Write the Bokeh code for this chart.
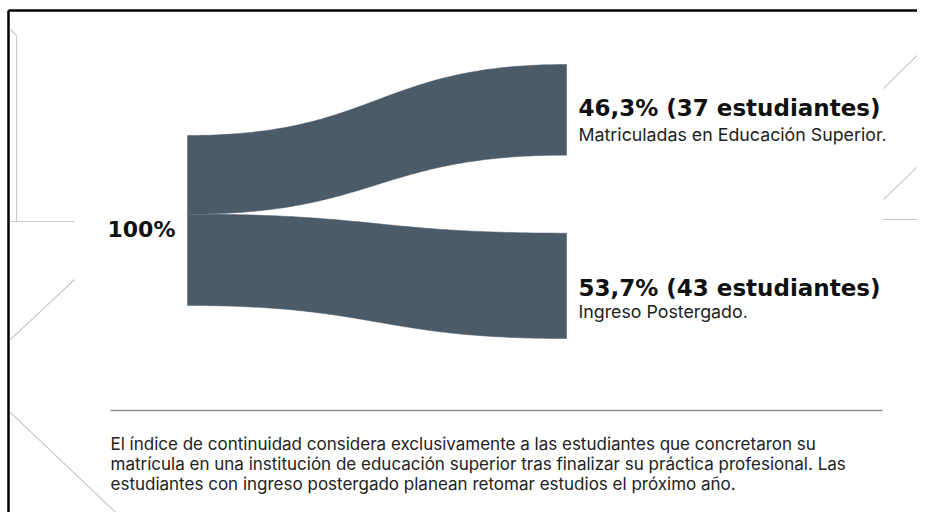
import numpy as np
from bokeh.plotting import figure
from bokeh.models import Range1d
from bokeh.core.properties import value
from bokeh.embed import file_html
from bokeh.resources import INLINE

# ---------------- data ----------------
total_label = "100%"
categories = ["Matriculadas en Educación Superior.", "Ingreso Postergado."]
students = [37, 43]
percents = ["46,3%", "53,7%"]
note_lines = [
    "El índice de continuidad considera exclusivamente a las estudiantes que concretaron su",
    "matrícula en una institución de educación superior tras finalizar su práctica profesional. Las",
    "estudiantes con ingreso postergado planean retomar estudios el próximo año.",
]

# ---------------- layout (picture pixel coords) ----------------
W, H = 917, 512
p = figure(width=W, height=H, output_backend="svg", toolbar_location=None,
           x_range=Range1d(0, W), y_range=Range1d(H, 0),
           min_border=0, outline_line_color=None, background_fill_color="white",
           border_fill_color="white")
p.axis.visible = False
p.grid.visible = False

FLOW = "#4b5b68"
DECO = "#c9cccf"

# decorative thin lines
deco = [
    ([10, 16, 16], [29, 35, 221]),
    ([10, 74], [221, 221]),
    ([74, 10], [279, 339]),
    ([10, 132], [412, 528]),
    ([883, 935], [88, 37]),
    ([883, 935], [199, 149]),
    ([882, 935], [219, 219]),
]
for xs, ys in deco:
    p.line(xs, ys, line_color=DECO, line_width=1.2)

# frame (top and left)
p.line([8, 935], [10, 10], line_color="black", line_width=2.5)
p.line([8, 8], [10, 530], line_color="black", line_width=2.5)

# ---------------- sankey ----------------
X0, X1 = 187, 566
L_TOP, L_BOT = 135, 305
R_TOP, R_BOT = 64, 338
tot = sum(students)
sl = (L_BOT - L_TOP) / tot
sr = 2.45

left_edges = []
acc = L_TOP
for s in students:
    left_edges.append((acc, acc + s * sl))
    acc += s * sl
right_edges = [(R_TOP, R_TOP + students[0] * sr), (R_BOT - students[1] * sr, R_BOT)]

t = np.linspace(0, 1, 120)
def bez(ya, yb):
    xm = (X0 + X1) / 2
    x = (1 - t) ** 3 * X0 + 3 * (1 - t) ** 2 * t * xm + 3 * (1 - t) * t ** 2 * xm + t ** 3 * X1
    y = (1 - t) ** 3 * ya + 3 * (1 - t) ** 2 * t * ya + 3 * (1 - t) * t ** 2 * yb + t ** 3 * yb
    return x, y

for (la, lb), (ra, rb) in zip(left_edges, right_edges):
    xt, yt = bez(la, ra)
    xb, yb = bez(lb, rb)
    xs = np.concatenate([xt, xb[::-1]])
    ys = np.concatenate([yt, yb[::-1]])
    p.patch(xs, ys, fill_color=FLOW, line_color=FLOW, line_width=0.5)

# ---------------- texts ----------------
BOLD = value("DejaVu Sans")
REG = value("Inter")

p.text(x=[107], y=[229], text=[total_label], text_font=BOLD, text_font_style="bold",
       text_font_size="22px", text_color="#111111", text_baseline="alphabetic")

title_y = [107, 287]
sub_y = [134, 311]
titles = [f"{pc} ({n} estudiantes)" for pc, n in zip(percents, students)]
p.text(x=[578, 578], y=title_y, text=titles, text_font=BOLD, text_font_style="bold",
       text_font_size="23px", text_color="#111111", text_baseline="alphabetic")
p.text(x=[578, 578], y=sub_y, text=categories, text_font=REG,
       text_font_size="17.8px", text_color="#222222", text_baseline="alphabetic")

# separator rule
p.line([110, 882], [410, 410], line_color="#8a8f93", line_width=1.3)

p.text(x=[110] * 3, y=[443, 463, 483], text=note_lines, text_font=REG,
       text_font_size="17px", text_color="#222222", text_baseline="alphabetic")

open("out.html", "w").write(file_html(p, INLINE))
